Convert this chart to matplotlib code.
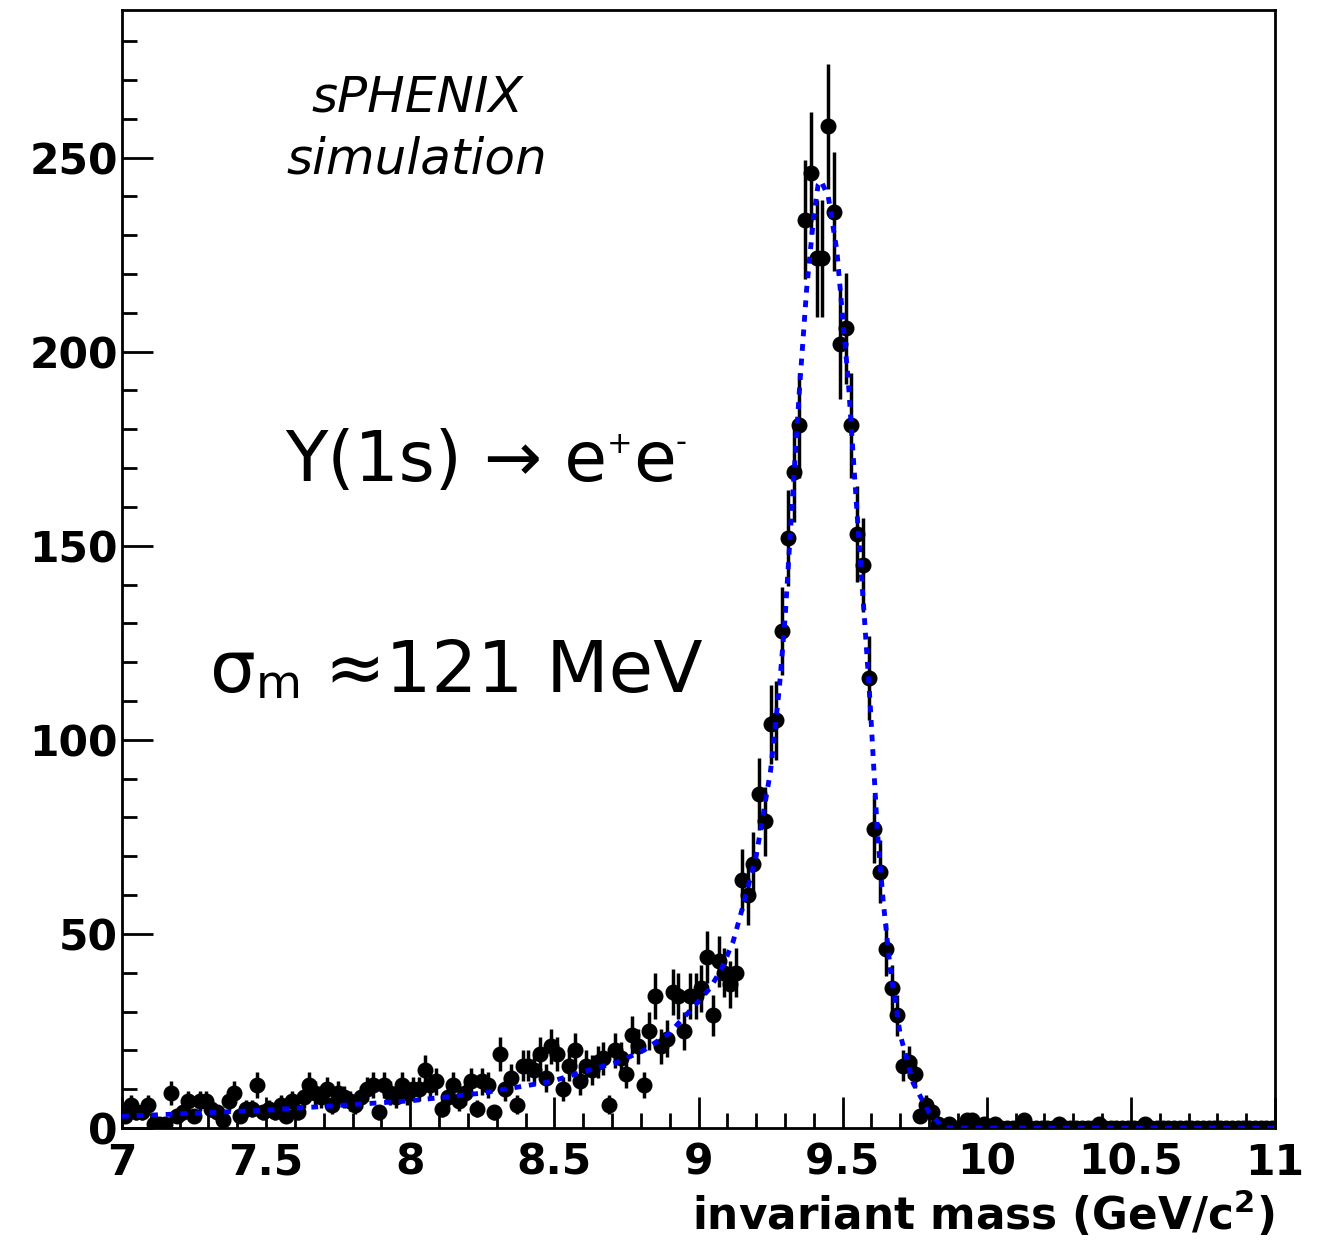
import numpy as np
import matplotlib
matplotlib.use("Agg")
import matplotlib.pyplot as plt
from matplotlib.ticker import MultipleLocator

# ---- data: bin centres (0.02 GeV bins from 7 to 11) and counts ----
bin_lo = 7.0
bin_width = 0.02
counts = [
    3, 6, 4, 4, 6, 1, 1, 1, 9, 3,          # 7.01 - 7.19
    4, 7, 3, 7, 7, 5, 4, 2, 7, 9,          # 7.21 - 7.39
    3, 5, 5, 11, 4, 5, 4, 6, 3, 7,         # 7.41 - 7.59
    4, 8, 11, 9, 8, 10, 6, 9, 8, 7,        # 7.61 - 7.79
    6, 8, 10, 11, 4, 11, 9, 8, 11, 9,      # 7.81 - 7.99
    10, 10, 15, 11, 12, 5, 8, 11, 7, 9,    # 8.01 - 8.19
    12, 5, 12, 11, 4, 19, 10, 13, 6, 16,   # 8.21 - 8.39
    16, 15, 19, 13, 21, 19, 10, 16, 20, 12,  # 8.41 - 8.59
    16, 15, 17, 18, 6, 20, 18, 14, 24, 21,   # 8.61 - 8.79
    11, 25, 34, 21, 23, 35, 34, 25, 34, 34,  # 8.81 - 8.99
    36, 44, 29, 43, 40, 37, 40, 64, 60, 68,  # 9.01 - 9.19
    86, 79, 104, 105, 128, 152, 169, 181, 234, 246,  # 9.21 - 9.39
    224, 224, 258, 236, 202, 206, 181, 153, 145, 116,  # 9.41 - 9.59
    77, 66, 46, 36, 29, 16, 17, 14, 3, 6,    # 9.61 - 9.79
    4, 1, 0, 1, 0, 0, 2, 2, 0, 1,            # 9.81 - 9.99
    0, 1, 0, 0, 0, 0, 2, 0, 0, 0,            # 10.01 - 10.19
    0, 0, 1, 0, 0, 0, 0, 0, 0, 1,            # 10.21 - 10.39
    0, 0, 0, 0, 0, 0, 0, 1, 0, 0,            # 10.41 - 10.59
    0, 0, 0, 0, 0, 0, 0, 0, 0, 0,            # 10.61 - 10.79
    0, 0, 0, 0, 0, 0, 0, 0, 0, 0,            # 10.81 - 10.99
]
centres = [round(bin_lo + bin_width * (i + 0.5), 3) for i in range(len(counts))]

# ---- fitted curve, values ----
fit_x = [7.0, 7.25, 7.5, 7.75, 8.0, 8.25, 8.49, 8.6, 8.72, 8.81, 8.9, 8.98,
         9.04, 9.08, 9.12, 9.15, 9.2, 9.25, 9.28, 9.30, 9.32, 9.35, 9.375,
         9.40, 9.415, 9.425, 9.45, 9.48, 9.50, 9.52, 9.535, 9.555, 9.575,
         9.595, 9.62, 9.64, 9.665, 9.70, 9.745, 9.80, 9.84, 9.87, 10.0,
         10.5, 11.0]
fit_y = [3, 3.8, 4.6, 5.8, 7, 9, 12, 14.5, 17, 20, 24.5, 31,
         36, 41, 48, 56, 70, 92, 113, 131, 155, 190, 216,
         235, 243, 244, 240, 226, 209, 192, 175, 153, 132,
         110, 77, 59, 41, 24, 11.5, 4, 0.8, 0, 0,
         0, 0]

xticks = [7, 7.5, 8, 8.5, 9, 9.5, 10, 10.5, 11]
xtick_labels = ["7", "7.5", "8", "8.5", "9", "9.5", "10", "10.5", "11"]
yticks = [0, 50, 100, 150, 200, 250]

# ---- figure ----
W, H = 1322, 1247
fig = plt.figure(figsize=(W / 100, H / 100), dpi=100)
ax = fig.add_axes([122 / W, 1 - 1128 / H, (1275 - 122) / W, (1128 - 10) / H])

cnt = np.array(counts, dtype=float)
ax.errorbar(centres, cnt, yerr=np.sqrt(cnt), fmt="o", color="black",
            markersize=10.5, elinewidth=2.5, capsize=0, zorder=2)
ax.plot(fit_x, fit_y, color="#0000ff", linewidth=3.5,
        linestyle=(0, (1.4, 1.6)), zorder=3)

ax.set_xlim(7, 11)
ax.set_ylim(0, 288)

tick_font = dict(family="DejaVu Sans", weight="bold", size=30.5)
ax.set_xticks(xticks)
ax.set_xticklabels(xtick_labels, fontdict=tick_font)
ax.set_yticks(yticks)
ax.set_yticklabels([str(v) for v in yticks], fontdict=tick_font)
ax.xaxis.set_minor_locator(MultipleLocator(0.1))
ax.yaxis.set_minor_locator(MultipleLocator(10))
ax.tick_params(axis="x", which="major", direction="in", length=22, width=2, pad=10)
ax.tick_params(axis="x", which="minor", direction="in", length=11, width=2)
ax.tick_params(axis="y", which="major", direction="in", length=22, width=2, pad=3)
ax.tick_params(axis="y", which="minor", direction="in", length=11, width=2)
for s in ax.spines.values():
    s.set_linewidth(2)

ax.set_xlabel("invariant mass (GeV/c$\\mathbf{^2}$)",
              fontdict=dict(family="DejaVu Sans", weight="bold", size=31.5),
              loc="right", labelpad=3)

# ---- annotations ----
fig.text(417 / W, 1 - 97 / H, "sPHENIX", ha="center", va="center",
         fontsize=36, style="italic", family="DejaVu Sans")
fig.text(417 / W, 1 - 160 / H, "simulation", ha="center", va="center",
         fontsize=36, style="italic", family="DejaVu Sans")

renderer = fig.canvas.get_renderer()


def seq_text(x_px, baseline_px, pieces):
    x = x_px
    for s, size, raise_px in pieces:
        t = fig.text(x / W, 1 - (baseline_px - raise_px) / H, s, ha="left",
                     va="baseline", fontsize=size,
                     family=["DejaVu Sans"])
        x += t.get_window_extent(renderer).width


seq_text(285, 481, [("Y(1s) \u2192 e", 50, 0), ("+", 22, 28),
                    ("e", 50, 0), ("-", 22, 30)])
seq_text(210, 692, [("\u03c3", 52, 0), ("m", 34, -6), (" \u2248121 MeV", 52, 0)])

fig.savefig("out.png", dpi=100)
